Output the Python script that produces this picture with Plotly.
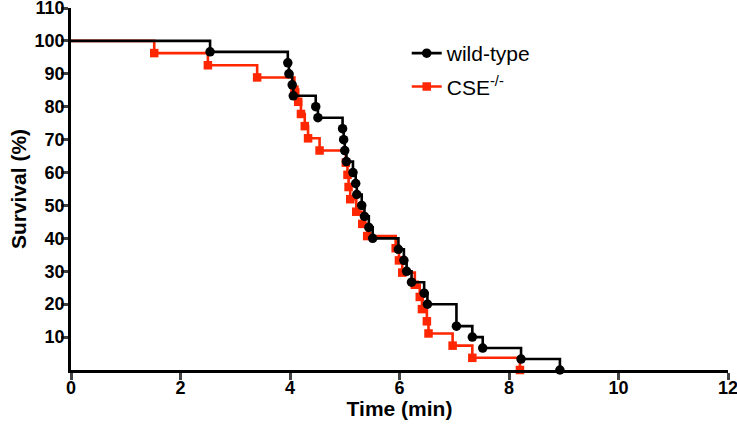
import plotly.graph_objects as go

# Kaplan-Meier steps (time in min, survival in %)
wt_time = [0, 2.54, 3.96, 3.98, 4.04, 4.06, 4.47, 4.51, 4.96, 4.98, 5.0, 5.03,
           5.15, 5.2, 5.22, 5.31, 5.36, 5.44, 5.51, 5.98, 6.08, 6.13, 6.22,
           6.45, 6.51, 7.04, 7.33, 7.52, 8.22, 8.93]
wt_surv = [100, 96.67, 93.33, 90.0, 86.67, 83.33, 80.0, 76.67, 73.33, 70.0,
           66.67, 63.33, 60.0, 56.67, 53.33, 50.0, 46.67, 43.33, 40.0, 36.67,
           33.33, 30.0, 26.67, 23.33, 20.0, 13.33, 10.0, 6.67, 3.33, 0]

cse_time = [0, 1.52, 2.5, 3.4, 4.08, 4.15, 4.2, 4.27, 4.33, 4.54, 5.02, 5.05,
            5.07, 5.1, 5.21, 5.32, 5.41, 5.93, 5.99, 6.05, 6.28, 6.37, 6.41,
            6.5, 6.53, 6.97, 7.33, 8.2]
cse_surv = [100, 96.3, 92.6, 88.9, 85.2, 81.5, 77.8, 74.1, 70.4, 66.7, 63.0,
            59.3, 55.6, 51.9, 48.1, 44.4, 40.7, 37.0, 33.3, 29.6, 25.9, 22.2,
            18.5, 14.8, 11.1, 7.4, 3.7, 0]

x_ticks = [0, 2, 4, 6, 8, 10, 12]
y_ticks = [10, 20, 30, 40, 50, 60, 70, 80, 90, 100, 110]

BLACK = '#000000'
RED = '#ff2600'

fig = go.Figure()

series = [
    (cse_time, cse_surv, RED, 'square', 8.5),
    (wt_time, wt_surv, BLACK, 'circle', 9.5),
]
for t, s, col, sym, ms in series:
    # step line
    fig.add_trace(go.Scatter(x=t, y=s, mode='lines', line=dict(color=col, width=2.6, shape='hv'),
                             showlegend=False, cliponaxis=False, hoverinfo='skip'))
    # event markers (skip time zero)
    fig.add_trace(go.Scatter(x=t[1:], y=s[1:], mode='markers',
                             marker=dict(color=col, size=ms, symbol=sym),
                             showlegend=False, cliponaxis=False))

# legend entries
for name, col, sym, ms in [('wild-type', BLACK, 'circle', 9.5), ('CSE<sup>-/-</sup>', RED, 'square', 8.5)]:
    fig.add_trace(go.Scatter(x=[None], y=[None], mode='lines+markers', name=name,
                             legendgroup=name,
                             line=dict(color=col, width=2.6),
                             marker=dict(color=col, size=ms, symbol=sym)))

fig.update_layout(
    width=737, height=433,
    margin=dict(l=71, r=9, t=8, b=63),
    plot_bgcolor='white', paper_bgcolor='white',
    font=dict(family='Liberation Sans, Arial, sans-serif', color='black'),
    legend=dict(x=0.511, y=0.931, xanchor='left', yanchor='top',
                font=dict(size=21), bgcolor='rgba(0,0,0,0)',
                itemwidth=30, tracegroupgap=3),
)
axis_common = dict(ticks='outside', ticklen=7, tickwidth=2.6, showline=True, linecolor='black',
                   linewidth=2.8, showgrid=False, zeroline=False, automargin=False,
                   ticklabeloverflow='allow', tickfont=dict(size=18, weight='bold'))
fig.update_xaxes(range=[0, 12], tickvals=x_ticks, ticklabelstandoff=-8, **axis_common,
                 title=dict(text='<b>Time (min)</b>', font=dict(size=21), standoff=0))
fig.update_yaxes(range=[0, 110], tickvals=y_ticks, ticklabelstandoff=-7, **axis_common,
                 title=dict(text='<b>Survival (%)</b>', font=dict(size=21), standoff=3))

# drop the default 8px body margin so the figure sits at the page corner
fig.write_html("out.html", config={'displayModeBar': False},
               post_script="document.body.style.margin='0';")
